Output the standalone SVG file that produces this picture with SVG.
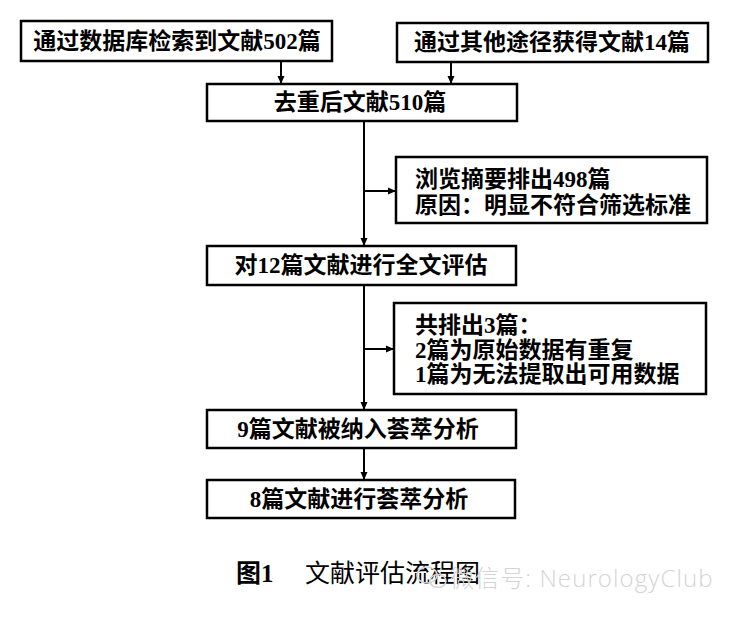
<svg xmlns="http://www.w3.org/2000/svg" width="733" height="618" viewBox="0 0 733 618">
<style>
.box{fill:#fff;stroke:#000;stroke-width:2.5}
.t{font-family:"Liberation Serif","Noto Sans CJK SC",serif;font-weight:bold;font-size:23px;fill:#000}
.c{text-anchor:middle}
.ln{stroke:#000;stroke-width:2;fill:none}
.cap{font-family:"Liberation Serif","Noto Sans CJK SC",serif;font-size:25px;fill:#000}
.wm{font-family:"Open Sans","Liberation Sans","Noto Sans CJK SC",sans-serif;font-weight:300;font-size:24px;letter-spacing:1.1px;fill:#d4d4d4}
</style>
<defs>
<marker id="ah" markerWidth="8" markerHeight="8" refX="8" refY="4" orient="auto" markerUnits="userSpaceOnUse">
<path d="M0,0.5 L8,4 L0,7.5 Z" fill="#000"/>
</marker>
</defs>
<rect width="733" height="618" fill="#fff"/>
<g id="connectors">
<line class="ln" x1="281" y1="61" x2="281" y2="84" marker-end="url(#ah)"/>
<line class="ln" x1="451" y1="62" x2="451" y2="84" marker-end="url(#ah)"/>
<line class="ln" x1="364" y1="121" x2="364" y2="246" marker-end="url(#ah)"/>
<line class="ln" x1="364" y1="191" x2="396" y2="191" marker-end="url(#ah)"/>
<line class="ln" x1="364" y1="285" x2="364" y2="410" marker-end="url(#ah)"/>
<line class="ln" x1="364" y1="349" x2="394" y2="349" marker-end="url(#ah)"/>
<line class="ln" x1="364" y1="448" x2="364" y2="480" marker-end="url(#ah)"/>
</g>
<g id="n1">
<rect class="box" x="21" y="21" width="311" height="40"/>
<text class="t c" x="177" y="49">通过数据库检索到文献502篇</text>
</g>
<g id="n2">
<rect class="box" x="397" y="23" width="311" height="39"/>
<text class="t c" x="552" y="50">通过其他途径获得文献14篇</text>
</g>
<g id="n3">
<rect class="box" x="207" y="84" width="310" height="37"/>
<text class="t c" x="360" y="110">去重后文献510篇</text>
</g>
<g id="n4">
<rect class="box" x="396" y="157" width="311" height="66"/>
<text class="t" x="415" y="187">浏览摘要排出498篇</text>
<text class="t" x="415" y="213">原因：明显不符合筛选标准</text>
</g>
<g id="n5">
<rect class="box" x="207" y="246" width="309" height="39"/>
<text class="t c" x="361" y="273">对12篇文献进行全文评估</text>
</g>
<g id="n6">
<rect class="box" x="394" y="303" width="312" height="91"/>
<text class="t" x="415" y="333">共排出3篇：</text>
<text class="t" x="415" y="358">2篇为原始数据有重复</text>
<text class="t" x="415" y="382">1篇为无法提取出可用数据</text>
</g>
<g id="n7">
<rect class="box" x="207" y="410" width="309" height="38"/>
<text class="t c" x="358" y="437">9篇文献被纳入荟萃分析</text>
</g>
<g id="n8">
<rect class="box" x="207" y="480" width="308" height="38"/>
<text class="t c" x="359" y="507">8篇文献进行荟萃分析</text>
</g>
<g id="caption">
<text class="cap" x="236" y="582" font-weight="bold">图1</text>
<text class="cap" x="305" y="582">文献评估流程图</text>
</g>
<g id="watermark">
<ellipse cx="427" cy="575" rx="10" ry="8" fill="none" stroke="#d4d4d4" stroke-width="1.5"/>
<ellipse cx="438" cy="581" rx="8" ry="6.5" fill="none" stroke="#d4d4d4" stroke-width="1.5"/>
<text class="wm" x="450" y="587">微信号: NeurologyClub</text>
</g>
</svg>
